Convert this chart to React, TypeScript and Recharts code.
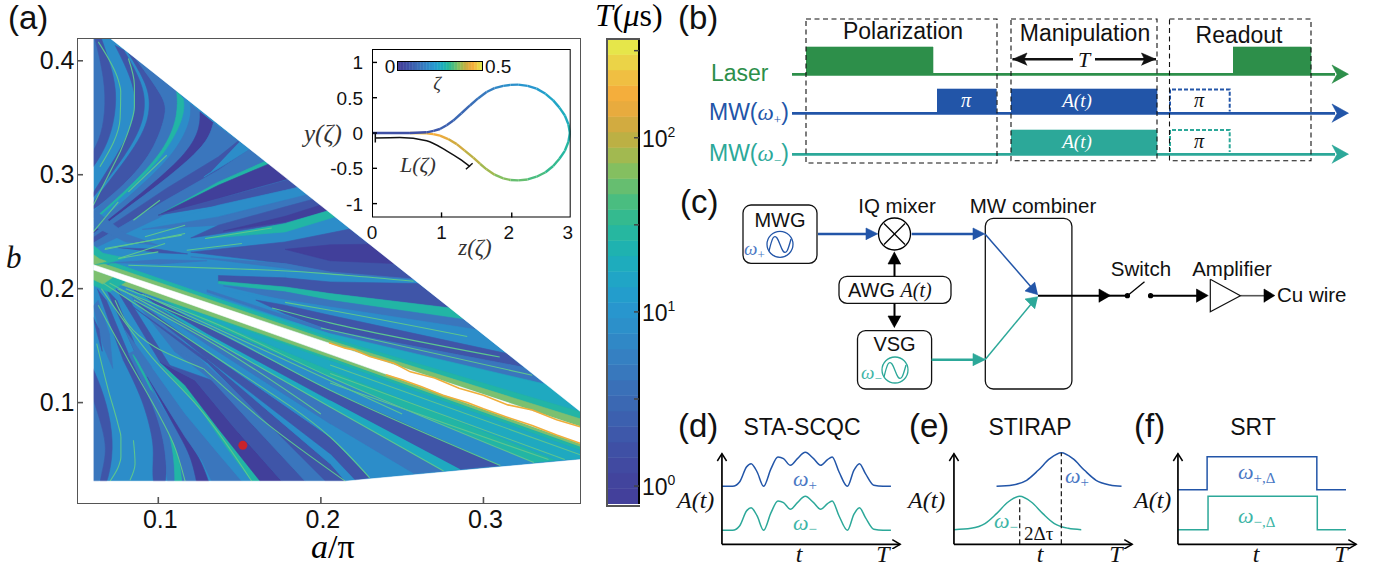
import React from "react";
import { ScatterChart, Scatter, XAxis, YAxis, BarChart, Bar, ReferenceArea, ReferenceDot } from "recharts";

type Pt = [number, number];
const SANS = "'Liberation Sans', Arial, sans-serif";
const SERIF = "'Liberation Serif', 'DejaVu Serif', serif";
const BLUE = "#2255a8", TEAL = "#2ca899", GREEN = "#2d8f4a";
const TONE: Record<string, string> = { D: "#413f9a", N: "#3f55a8", M: "#3a76bd", B: "#2c8dc9", C: "#1fa9c0", T: "#22b5a5", G: "#7cc070", L: "#5cc58f", O: "#f0ae3a" };

const colormap = ["#43409b","#42449d","#414aa1","#3f50a5","#3e58aa","#3c60af","#3b68b3","#3a70b8","#3878bd","#3580c2","#3088c6","#2c90ca","#2896ce","#239dcc","#20a5c6","#1eacbd","#1fb2b0","#26b7a0","#34ba8f","#4abd80","#66be70","#84bf60","#a2b950","#bcb044","#d2ab40","#e8ab3e","#f4ae3c","#f0bf42","#ebd347","#e6e64a"];

// ---- (a) heat map: bands traced in (a/pi, b)
const heatRegion: Pt[] = [[.06,.42],[.0703,.42],[.36,.0917],[.36,.05],[.215,.031],[.06,.031]];
const c0: Pt[] = [[.06,.42],[.06,.313]];
const c1: Pt[] = [[.061,.4196],[.067,.3845],[.0676,.355],[.064,.329],[.06,.313]];
const c2: Pt[] = [[.065,.4196],[.0734,.3845],[.0744,.361],[.0703,.329],[.06,.2967]];
const c3: Pt[] = [[.0734,.4137],[.0847,.3815],[.0867,.358],[.0816,.3318],[.06,.2762]];
const c4a: Pt[] = [[.0785,.41],[.0905,.3805],[.0925,.358],[.087,.33],[.06,.272]];
const c4b: Pt[] = [[.0815,.407],[.0935,.379],[.0955,.358],[.09,.33],[.06,.27]];
const c5: Pt[] = [[.0857,.4025],[.1042,.3669],[.1052,.3537],[.097,.32],[.0795,.2908],[.06,.2645]];
const c6: Pt[] = [[.1113,.3735],[.1124,.3523],[.1042,.3215],[.0816,.2879],[.06,.2557]];
const c7: Pt[] = [[.1154,.3669],[.1165,.3523],[.1052,.32],[.0836,.2879],[.06,.2542]];
const c8: Pt[] = [[.1196,.3625],[.1206,.3493],[.1113,.32],[.0857,.285],[.06,.2498]];
const c9: Pt[] = [[.1257,.3552],[.1257,.3406],[.1185,.32],[.096,.2908],[.06,.2454]];
const c10: Pt[] = [[.1339,.3458],[.1319,.3347],[.1247,.32],[.1,.2908],[.0816,.2718],[.06,.244]];
const c11: Pt[] = [[.1503,.3285],[.137,.3119],[.1083,.285],[.06,.2411]];
const rev = (p: Pt[]) => [...p].reverse();
const between = (p: Pt[], q: Pt[]) => [...p, ...rev(q)];

const upperCurved: [string, Pt[]][] = [
  ["M", between(c0, c1)], ["N", between(c1, c2)], ["N", between(c3, c4a)], ["N", between(c4b, c5)], ["M", between(c5, c6)], ["T", between(c6, c7)],
  ["M", between(c8, c9)], ["D", between(c9, c10)], ["M", between(c10, c11)],
];
const upperBands: [string, Pt[]][] = [
  ["N", [[.149,.3295],[.137,.3157],[.105,.288],[.06,.245],[.06,.24],[.105,.278],[.137,.304],[.1565,.3225]]],
  ["B", [[.15,.329],[.1565,.3225],[.14,.308],[.128,.298],[.132,.302]]],
  ["M", [[.1565,.3225],[.137,.304],[.105,.278],[.06,.24],[.06,.235],[.1,.262],[.137,.2937],[.1655,.3115]]],
  ["T", [[.1655,.3115],[.137,.2937],[.1,.2645],[.137,.2908],[.168,.309]]],
  ["D", [[.168,.3095],[.137,.2908],[.1,.2645],[.137,.279],[.16,.2885],[.18,.2965]]],
  ["N", [[.18,.2957],[.137,.279],[.1,.2645],[.137,.2733],[.178,.2864],[.186,.289]]],
  ["B", [[.186,.289],[.178,.2864],[.137,.2733],[.09,.252],[.137,.263],[.178,.2776],[.1917,.2825]]],
  ["M", [[.1917,.2825],[.178,.2776],[.137,.263],[.09,.252],[.137,.2557],[.178,.2718],[.1952,.2785]]],
  ["N", [[.1952,.2785],[.178,.2718],[.137,.2557],[.12,.2445],[.178,.2572],[.2043,.2683]]],
  ["D", [[.2,.2735],[.178,.2635],[.14,.2505],[.178,.2585],[.2043,.2683]]],
  ["T", [[.2043,.2683],[.178,.2572],[.1288,.244],[.178,.2498],[.2088,.2631]]],
  ["N", [[.2178,.2523],[.178,.241],[.12,.232],[.178,.222],[.2057,.2147],[.257,.2085]]],
  ["D", [[.23,.239],[.2057,.2385],[.178,.2345],[.2057,.2245],[.245,.222]]],
  ["M", [[.257,.2085],[.2057,.2147],[.178,.222],[.12,.228],[.178,.218],[.2057,.212],[.258,.2065]]],
  ["B", [[.258,.2075],[.2057,.213],[.178,.2155],[.178,.2095],[.2057,.2059],[.26,.2045]]],
  ["N", [[.26,.2045],[.2057,.2059],[.178,.2095],[.137,.2115],[.137,.206],[.178,.2015],[.2057,.1957],[.2796,.183]]],
  ["T", [[.2796,.183],[.2057,.1957],[.178,.2015],[.137,.2065],[.137,.2045],[.178,.1972],[.2057,.1898],[.2878,.173]]],
  ["M", [[.2878,.173],[.2057,.1898],[.178,.1972],[.14,.2025],[.178,.19],[.2057,.1839],[.296,.164]]],
  ["B", [[.296,.164],[.2057,.1839],[.178,.19],[.14,.199],[.178,.1855],[.2057,.1766],[.3145,.143]]],
  ["N", [[.3145,.143],[.2057,.1766],[.178,.1855],[.16,.19],[.178,.178],[.2057,.1635],[.3247,.131]]],
  ["M", [[.3247,.131],[.2057,.1635],[.13,.199],[.13,.197],[.2057,.1605],[.339,.1145]]],
  ["C", [[.339,.1158],[.2057,.1605],[.09,.212],[.09,.2065],[.2057,.157],[.36,.0917]]],
  ["T", [[.36,.0917],[.2057,.157],[.07,.224],[.07,.2195],[.2057,.1545],[.36,.0855]]],
  ["G", [[.36,.0855],[.2057,.1545],[.065,.2225],[.06,.221],[.2057,.1518],[.36,.0786]]],
  ["T", [[.06,.238],[.066,.231],[.08,.227],[.068,.222],[.06,.221]]],
  ["G", [[.06,.23],[.064,.226],[.068,.224],[.06,.221]]],
  ["M", [[.06,.27],[.08,.248],[.1,.238],[.08,.241],[.06,.255]]],
  ["N", [[.075,.236],[.1,.2345],[.118,.2305],[.1,.2315]]],
  ["M", [[.07,.2225],[.1,.2255],[.13,.2245],[.1,.2215]]],
];
const lowerCurved: [string, Pt[]][] = [
  ["M", [[.06,.12],[.0672,.0727],[.0682,.0522],[.062,.031],[.06,.031]]],
  ["N", [[.06,.1415],[.0652,.1137],[.0713,.0815],[.0723,.0522],[.0672,.031],[.062,.031],[.0682,.0522],[.0672,.0727],[.06,.12]]],
  ["N", [[.0785,.1371],[.0908,.102],[.097,.0669],[.097,.0522],[.096,.031],[.1052,.031],[.1052,.0581],[.098,.0961],[.0816,.143]]],
  ["M", [[.0816,.143],[.098,.0961],[.1052,.0581],[.1052,.031],[.1103,.031],[.11,.0581],[.102,.0961],[.0857,.146]]],
  ["T", [[.1103,.031],[.11,.0581],[.102,.0961],[.0785,.155],[.092,.128],[.1087,.0669],[.1134,.0522],[.1155,.031]]],
  ["M", [[.1155,.031],[.1134,.0522],[.1087,.0669],[.0877,.1313],[.1124,.0727],[.1206,.0522],[.1247,.031]]],
  ["D", [[.1247,.031],[.1206,.0522],[.1124,.0727],[.0898,.1313],[.096,.1166],[.1165,.0698],[.1267,.0493],[.1329,.031]]],
];
const lowerSlivers: [string, Pt[]][] = [
  ["N", [[.0625,.2],[.0785,.1371],[.0816,.143],[.068,.19]]],
  ["N", [[.068,.2],[.0898,.1313],[.094,.1215],[.0745,.19]]],
  ["N", [[.074,.2],[.1011,.1357],[.11,.126],[.083,.188]]],
  ["M", [[.081,.198],[.11,.145],[.1288,.1342],[.09,.19]]],
  ["N", [[.09,.196],[.1288,.16],[.135,.148],[.1,.184]]],
  ["M", [[.06,.185],[.066,.15],[.072,.13],[.07,.16],[.063,.19]]],
  ["N", [[.06,.175],[.0625,.16],[.0655,.145],[.0635,.165]]],
];
const lowerBands: [string, Pt[]][] = [
  ["M", [[.1329,.031],[.1267,.0493],[.1165,.0698],[.0898,.1313],[.0795,.1635],[.096,.1313],[.1165,.0903],[.137,.0552],[.1514,.031]]],
  ["B", [[.1514,.031],[.137,.0552],[.1165,.0903],[.096,.1313],[.1011,.1342],[.1247,.0961],[.1432,.0581],[.1575,.031]]],
  ["T", [[.1575,.031],[.1432,.0581],[.1247,.0961],[.1011,.1342],[.1165,.1152],[.137,.0771],[.1627,.031]]],
  ["D", [[.1627,.031],[.137,.0771],[.1165,.1152],[.1011,.1357],[.1226,.1196],[.1473,.0771],[.176,.031]]],
  ["N", [[.176,.031],[.1473,.0771],[.1226,.1196],[.1011,.1357],[.1329,.1196],[.1575,.0815],[.1904,.031]]],
  ["M", [[.1904,.031],[.1575,.0815],[.1329,.1196],[.11,.145],[.1288,.1342],[.1637,.0888],[.2027,.031]]],
  ["N", [[.2027,.031],[.215,.031],[.2057,.0464],[.13,.1383],[.085,.1835],[.13,.135]]],
  ["B", [[.215,.031],[.221,.032],[.2057,.0552],[.13,.1383],[.2057,.0464]]],
  ["N", [[.221,.032],[.23,.034],[.2057,.0698],[.13,.1448],[.085,.19],[.13,.1383],[.2057,.0552]]],
  ["B", [[.23,.034],[.257,.0377],[.2057,.0815],[.13,.1509],[.085,.193],[.13,.1448],[.2057,.0698]]],
  ["M", [[.257,.0377],[.2755,.04],[.2057,.0961],[.13,.1575],[.085,.195],[.13,.1509],[.2057,.0815]]],
  ["C", [[.2755,.04],[.2857,.0415],[.2057,.102],[.13,.1607],[.085,.197],[.13,.1575],[.2057,.0961]]],
  ["N", [[.2857,.0415],[.3104,.0447],[.2057,.1108],[.13,.1665],[.085,.199],[.13,.1607],[.2057,.102]]],
  ["B", [[.3104,.0447],[.331,.0475],[.2057,.1225],[.13,.1706],[.085,.201],[.13,.1665],[.2057,.1108]]],
  ["T", [[.331,.0475],[.345,.0493],[.2057,.1283],[.13,.1743],[.085,.203],[.13,.1706],[.2057,.1225]]],
  ["C", [[.345,.0493],[.36,.0508],[.36,.058],[.2057,.137],[.13,.178],[.085,.205],[.13,.1743],[.2057,.1283]]],
  ["T", [[.36,.058],[.36,.061],[.2057,.1395],[.1,.195],[.1,.192],[.2057,.137]]],
  ["G", [[.36,.061],[.36,.064],[.2057,.1425],[.07,.212],[.07,.207],[.2057,.1395]]],
  ["T", [[.06,.2166],[.08,.206],[.07,.197],[.06,.203]]],
  ["G", [[.06,.2166],[.072,.21],[.066,.204],[.06,.208]]],
];
const brightLines: Pt[][] = [
  [[.0631,.4166],[.0754,.383],[.0769,.3727],[.0765,.3493],[.0641,.307]],
  [[.0816,.402],[.0853,.3786],[.0853,.3596],[.082,.34],[.0765,.32]],
  [[.1052,.3171],[.0816,.285]], [[.0765,.32],[.06,.2732]], [[.0754,.2762],[.06,.2498]],
  [[.101,.2776],[.0847,.26]], [[.1165,.2557],[.0918,.2455]], [[.1144,.247],[.0672,.2352]],
  [[.1698,.2533],[.1288,.244]], [[.1514,.2396],[.1175,.2337]], [[.1042,.2396],[.0754,.2264]],
  [[.0816,.2206],[.143,.2176],[.17,.2162],[.215,.2118],[.257,.2065]],
  [[.1,.2323],[.0754,.2264]], [[.1165,.2484],[.067,.2343]],
  [[.178,.188],[.2057,.181],[.29,.158]], [[.17,.183],[.2057,.17],[.31,.14]], [[.2,.1655],[.33,.124]],
  [[.0621,.1518],[.0693,.1108],[.0754,.08],[.077,.0698],[.077,.0522],[.0754,.0435],[.0703,.031]],
  [[.0847,.0669],[.0857,.0464],[.0826,.0318]],
  [[.0631,.1854],[.0816,.1371],[.099,.0932],[.1093,.064],[.1165,.031]],
  [[.07,.205],[.13,.1575],[.2057,.0961],[.2755,.04]], [[.075,.2],[.13,.1665],[.2057,.1108],[.3104,.0447]],
  [[.08,.2],[.13,.1725],[.2057,.1225],[.331,.0475]], [[.066,.205],[.13,.145],[.2057,.0698],[.23,.034]],
  [[.065,.2],[.096,.14],[.1247,.0961],[.1575,.031]], [[.0734,.1898],[.098,.1488],[.1278,.1298]],
  [[.1278,.1298],[.1668,.0815],[.215,.031]], [[.085,.19],[.13,.155],[.2,.09]], [[.09,.195],[.13,.169],[.25,.09]],
  [[.2057,.1172],[.34,.05]], [[.2057,.1255],[.35,.05]], [[.2057,.133],[.36,.054]],
];
const orangeEdges: Pt[][] = [
  [[.205,.1525],[.215,.1478],[.22,.1465],[.23,.1405],[.245,.1345],[.255,.127],[.27,.1215],[.285,.1125],[.3,.1065],[.315,.098],[.33,.0935],[.345,.085],[.36,.0786]],
  [[.24,.1245],[.25,.12],[.262,.114],[.275,.1065],[.29,.1],[.3,.0945],[.315,.087],[.33,.08],[.345,.0715],[.36,.064]],
];
const whiteStrip: Pt[] = [[.06,.221],[.36,.0786],[.36,.064],[.06,.2166]];
const upperMask: Pt[] = [[.0703,.42],[.36,.0917],[.36,.42]];
const lowerMask: Pt[] = [[.0555,.031],[.215,.031],[.36,.05],[.36,.02],[.0555,.02]];
const leftMask: Pt[] = [[.0555,.02],[.06,.02],[.06,.42],[.0555,.42]];
const frameBox: Pt[] = [[.05,.011],[.05,.42],[.36,.42],[.36,.011],[.05,.011]];
const markerPoint = { a: .152, b: .0625 };
const xTicksA = [.1, .2, .3];
const yTicksB = [.1, .2, .3, .4];

// ---- inset
const loopOut: Pt[] = [[0,0],[.573,0],[.825,.01],[.93,.03],[1.026,.057],[1.127,.11],[1.227,.176],[1.35,.28],[1.479,.39],[1.6,.49],[1.73,.581],[1.85,.635],[1.982,.667],[2.09,.682],[2.208,.686],[2.35,.668],[2.485,.629],[2.62,.555],[2.736,.462],[2.83,.36],[2.912,.248],[2.965,.125],[2.988,0]];
const loopBack: Pt[] = [[2.988,0],[2.965,-.125],[2.912,-.252],[2.83,-.365],[2.736,-.467],[2.62,-.555],[2.485,-.619],[2.35,-.658],[2.208,-.671],[2.09,-.665],[1.982,-.643],[1.85,-.59],[1.73,-.514],[1.63,-.435],[1.529,-.348],[1.4,-.25],[1.279,-.157],[1.15,-.085],[1.026,-.038],[.925,-.015],[.825,-.005],[.573,0]];
const loopOutColor = [3,3,4,4,5,5,6,6,7,8,9,10,11,11,12,12,13,14,14,15,15,16];
const loopBackColor = [16,17,17,18,18,19,19,20,20,21,21,22,22,23,23,24,24,25,26,26,27];
const arcL: Pt[] = [[.05,-.071],[.42,-.062],[.825,-.11],[1.127,-.252],[1.328,-.371],[1.479,-.476]];
const arcStartBar: Pt[] = [[.05,-.014],[.05,-.133]];
const arcEndBar: Pt[] = [[1.418,-.514],[1.519,-.429]];
const insetBox: Pt[] = [[0,-1.195],[0,1.19],[3,1.19],[3,-1.195],[0,-1.195]];
const xTicksInset = [0, 1.05, 2.11, 3];
const xLabelsInset = ["0", "1", "2", "3"];
const yTicksInset = [-1, -.5, 0, .5, 1];

// ---- (b),(c) schematic, in page units
const timeLines: [string, Pt[]][] = [
  [GREEN, [[792,74.3],[1335,74.3]]], [BLUE, [[792,113.3],[1335,113.3]]], [TEAL, [[792,154.3],[1335,154.3]]],
];
const pulses: [string, number, number, number, number][] = [
  [GREEN,806,933,47,74], [GREEN,1233,1311,47,74], [BLUE,937,996.4,89,113], [BLUE,1011,1157,89,113], [TEAL,1011,1157,130,154],
];
const dashedPulse: [string, Pt[]][] = [
  [BLUE, [[1170,111.5],[1170,89.5],[1229.7,89.5],[1229.7,111.5]]], [TEAL, [[1170,152],[1170,130],[1229.7,130],[1229.7,152]]],
];
const phaseBoxes: Pt[][] = [
  [[806,19],[997,19],[997,163],[806,163],[806,19]],
  [[1011,19],[1157,19],[1157,160.7],[1011,160.7],[1011,19]],
  [[1169.5,19],[1311,19],[1311,160.7],[1169.5,160.7],[1169.5,19]],
];
const arrowsHead: [string, Pt[]][] = [
  [GREEN, [[1348.7,74.3],[1332,65],[1337,74.3],[1332,83.5]]], [BLUE, [[1348.7,113.3],[1332,104],[1337,113.3],[1332,122.5]]], [TEAL, [[1348.7,154.3],[1332,145],[1337,154.3],[1332,163.5]]],
  ["#111", [[1012.5,59.3],[1027,53],[1024,59.3],[1027,65.5]]], ["#111", [[1156,59.3],[1141.5,53],[1144.5,59.3],[1141.5,65.5]]],
  [BLUE, [[878,234],[866,228],[866,240]]], [BLUE, [[985,234],[973,228],[973,240]]], [TEAL, [[985.7,359.7],[973,353.5],[973,366]]],
  ["#000", [[894.5,251.7],[888,264],[901,264]]], ["#000", [[894.5,327.7],[888,316],[901,316]]],
  [BLUE, [[1038,294.7],[1025,291],[1035,282]]], [TEAL, [[1038,296.7],[1025,299],[1035,309]]],
  ["#000", [[1110.7,295.7],[1099,289],[1099,302.5]]], ["#000", [[1208.4,295.7],[1196.5,289],[1196.5,302.5]]], ["#000", [[1275,295.7],[1264,289],[1264,302.5]]],
];
const wires: [string, number, Pt[]][] = [
  ["#111", 2.4, [[1012.5,59.3],[1073,59.3]]], ["#111", 2.4, [[1095,59.3],[1156,59.3]]],
  [BLUE, 2.4, [[818,234],[867,234]]], [BLUE, 2.4, [[911.7,234],[974,234]]], [TEAL, 2.4, [[931.6,359.7],[974,359.7]]],
  [BLUE, 1.5, [[985,234],[1032,288]]], [TEAL, 1.5, [[985,359.7],[1032,303]]],
  ["#000", 2, [[894.5,276.3],[894.5,262]]], ["#000", 2, [[894.5,303.3],[894.5,318]]],
  ["#000", 2, [[1038,295.7],[1100,295.7]]], ["#000", 2, [[1100,295.7],[1127.4,295.7]]], ["#000", 1.3, [[1127.4,295.7],[1144.5,281.7]]],
  ["#000", 2, [[1150.6,295.7],[1198,295.7]]], ["#555", 1.6, [[1240.4,295.7],[1265,295.7]]],
  ["#000", 1.3, [[884,223.5],[905,244.5]]], ["#000", 1.3, [[905,223.5],[884,244.5]]],
];
const ampTriangle: Pt[] = [[1210.3,279.3],[1210.3,311.7],[1240.4,295.7],[1210.3,279.3]];
const roundBoxes: [number, number, number, number][] = [
  [743,817,205,263.3], [839,951,276.3,303.3], [857.5,931.6,330.7,389], [985.3,1071.9,218.3,389],
];
const sineBlue: Pt[] = [[769,251],[773,238],[777,238],[780,244.5],[783,251],[787,251],[791,239]];
const sineTeal: Pt[] = [[884,377],[888,364],[892,364],[895,370.5],[898,377],[902,377],[906,365]];
const circles: [number, number, number, string][] = [[780,244.3,13,BLUE],[895,370,13,TEAL],[894.5,234,16,"#000"],[1127.4,295.7,2,"#000"],[1150.6,295.7,2,"#000"]];

// ---- (d),(e),(f) pulses, t and A in arbitrary units
const scqcT = [0,23,38,53,63,76,90,106,121,133,148,163,180,198,213,228,238,253,271,285,297,310,328,348,365];
const scqcPlus = [174,174,187,232,242,217,174,227,262,257,237,257,276,257,237,254,262,217,174,222,242,212,177,174,174];
const scqcMinus = [42,42,55,100,110,85,42,95,130,125,105,125,144,125,105,122,130,85,42,90,110,80,45,42,42];
const stirapPlusT = [92,127,157,182,207,232,257,282,307,337,362];
const stirapPlus = [174,178,192,222,257,275,257,222,192,178,174];
const stirapMinusT = [0,37,67,92,117,142,167,192,217,247,275];
const stirapMinus = [44,48,62,92,127,144,127,92,62,48,44];
const srtPlus: Pt[] = [[0,164],[63,164],[63,263],[300,263],[300,164],[363,164]];
const srtMinus: Pt[] = [[0,44],[65,44],[65,144],[301,144],[301,44],[363,44]];
const axisX: Pt[] = [[0,0],[385,0]];
const axisY: Pt[] = [[0,0],[0,272]];
const headX: Pt[] = [[368,14],[385,0],[368,-14]];
const headY: Pt[] = [[-10,250],[0,272],[10,250]];

const Nothing = () => <g />;
const xy = (p: Pt[]) => p.map(([x, y]) => ({ x, y }));
const pushOut = (p: Pt[]): Pt[] => p.map(([a, b]) => [a === .06 ? .056 : a, b === .031 ? .022 : b]);

function fillArea(p: Pt[], fill: string, key: string, joint = "linear") {
  return <Scatter key={key} data={xy(p)} fill={fill} isAnimationActive={false} shape={Nothing} lineJointType={joint as any}
    line={{ fill, stroke: fill, strokeWidth: .6 }} />;
}
function stroke(p: Pt[], color: string, width: number, key: string, extra: any = {}, joint = "linear") {
  return <Scatter key={key} data={xy(p)} fill="none" isAnimationActive={false} shape={Nothing} lineJointType={joint as any}
    line={{ fill: "none", stroke: color, strokeWidth: width, ...extra }} />;
}

const txtTickB = (props: any) => {
  const { x, y, payload } = props;
  return <g><line x1={x} x2={x + 6} y1={y} y2={y} stroke="#555" strokeWidth={1.6} />
    <text x={x - 2.5} y={y + 8.5} textAnchor="end" fontFamily={SANS} fontSize={25} fill="#111">{payload.value.toFixed(1)}</text></g>;
};
const txtTickA = (props: any) => {
  const { x, y, payload } = props;
  return <g><line x1={x} x2={x} y1={y - 7} y2={y} stroke="#555" strokeWidth={1.6} />
    <text x={x + 2} y={y + 24} textAnchor="middle" fontFamily={SANS} fontSize={25} fill="#111">{payload.value.toFixed(1)}</text></g>;
};

function MainChart() {
  return (
    <ScatterChart width={600} height={560} margin={{ top: 38, right: 19, bottom: 0, left: 0 }} style={{ position: "absolute", left: 0, top: 0 }}>
      <XAxis type="number" dataKey="x" domain={[.05, .36]} ticks={xTicksA} height={56} axisLine={false} tickLine={false} tickSize={0} tickMargin={0} tick={txtTickA} allowDataOverflow />
      <YAxis type="number" dataKey="y" domain={[.011, .42]} ticks={yTicksB} width={77} axisLine={false} tickLine={false} tickSize={0} tickMargin={0} tick={txtTickB} allowDataOverflow />
      {fillArea(heatRegion, TONE.B, "base")}
      {upperCurved.map(([t, p], i) => fillArea(pushOut(p), TONE[t], "uc" + i, "basis"))}
      {upperBands.map(([t, p], i) => fillArea(p, TONE[t], "u" + i))}
      {lowerSlivers.map(([t, p], i) => fillArea(p, TONE[t], "sl" + i))}
      {lowerCurved.map(([t, p], i) => fillArea(pushOut(p), TONE[t], "lc" + i, "basis"))}
      {lowerBands.map(([t, p], i) => fillArea(p, TONE[t], "l" + i))}
      {brightLines.map((p, i) => stroke(p, TONE.L, 1.1, "g" + i, {}, "monotoneY"))}
      {fillArea(whiteStrip, "#fff", "strip")}
      {orangeEdges.map((p, i) => stroke(p, TONE.O, 1.6, "o" + i))}
      {fillArea(upperMask, "#fff", "mu")}
      {fillArea(lowerMask, "#fff", "ml")}
      {fillArea(leftMask, "#fff", "mleft")}
      {stroke(frameBox, "#555", 2, "frame")}
      <ReferenceDot x={markerPoint.a} y={markerPoint.b} r={4.5} fill="#c8232c" stroke="none" />
    </ScatterChart>
  );
}

const insetTickX = (props: any) => {
  const { x, y, index } = props;
  const off = index === 2 ? -3 : index === 3 ? -3 : 0;
  return <g>{index > 0 && index < 3 ? <line x1={x} x2={x} y1={y - 5} y2={y} stroke="#000" strokeWidth={1.4} /> : null}
    <text x={x + off} y={y + 22} textAnchor="middle" fontFamily={SANS} fontSize={19} fill="#111">{xLabelsInset[index]}</text></g>;
};
const insetTickY = (props: any) => {
  const { x, y, payload } = props;
  return <g><line x1={x} x2={x + 5} y1={y} y2={y} stroke="#000" strokeWidth={1.4} />
    <text x={x - 9} y={y + 7} textAnchor="end" fontFamily={SANS} fontSize={19} fill="#111">{payload.value}</text></g>;
};

function InsetChart() {
  return (
    <ScatterChart width={255} height={219.4} margin={{ top: 9, right: 4.3, bottom: 0, left: 0 }} style={{ position: "absolute", left: 320, top: 40.3 }}>
      <XAxis type="number" dataKey="x" domain={[0, 3]} ticks={xTicksInset} height={42} axisLine={false} tickLine={false} tickSize={0} tickMargin={0} tick={insetTickX} interval={0} allowDataOverflow />
      <YAxis type="number" dataKey="y" domain={[-1.195, 1.19]} ticks={yTicksInset} width={52} axisLine={false} tickLine={false} tickSize={0} tickMargin={0} tick={insetTickY} interval={0} allowDataOverflow />
      {loopBack.slice(1).map((p, i) => stroke([loopBack[i], p], colormap[loopBackColor[i]], 2.4, "b" + i))}
      {loopOut.slice(1).map((p, i) => stroke([loopOut[i], p], colormap[loopOutColor[i]], 2.4, "a" + i))}
      {stroke(arcL, "#111", 1.5, "arc", {}, "monotoneX")}
      {stroke(arcStartBar, "#111", 1.5, "arc1")}
      {stroke(arcEndBar, "#111", 1.5, "arc2")}
      {stroke(insetBox, "#000", 2, "box")}
    </ScatterChart>
  );
}

const decadeOffset = .103;
const barLogRows = [Object.fromEntries(colormap.map((_, i) => ["s" + i, 2.67 / colormap.length]))];
const cbarTicks = [0, .5, 1, 1.5, 2, 2.5].map(v => v + decadeOffset);
const cbarTick = (props: any) => {
  const { x, y, payload } = props;
  const n = payload.value - decadeOffset;
  const major = Math.abs(n - Math.round(n)) < .01;
  return <g><line x1={x - 5} x2={x} y1={y} y2={y} stroke="#444" strokeWidth={1.5} />
    {major ? <text x={x + 3} y={y + 9} fontFamily={SANS} fontSize={23} fill="#111">10<tspan fontSize={14} dy={-10}>{Math.round(n)}</tspan></text> : null}</g>;
};

function ColorBar() {
  return (
    <BarChart width={72} height={465} data={barLogRows} margin={{ top: 0, right: 0, bottom: 0, left: 0 }} barCategoryGap={0} style={{ position: "absolute", left: 607, top: 39 }}>
      <XAxis hide />
      <YAxis orientation="right" type="number" domain={[0, 2.67]} ticks={cbarTicks} width={40} axisLine={{ stroke: "#000", strokeWidth: 2 }} tickLine={false} tickSize={0} tickMargin={0} tick={cbarTick} interval={0} allowDataOverflow />
      {colormap.map((c, i) => <Bar key={i} dataKey={"s" + i} stackId="a" fill={c} stroke={c} strokeWidth={.5} isAnimationActive={false} />)}
    </BarChart>
  );
}
function MiniBar() {
  return (
    <BarChart layout="vertical" width={85} height={9} data={barLogRows} margin={{ top: 0, right: 0, bottom: 0, left: 0 }} barCategoryGap={0} style={{ position: "absolute", left: 397.5, top: 61 }}>
      <XAxis type="number" hide domain={[0, 2.67]} />
      <YAxis type="category" hide />
      {colormap.map((c, i) => <Bar key={i} dataKey={"s" + i} stackId="a" fill={c} stroke={c} strokeWidth={.5} isAnimationActive={false} />)}
    </BarChart>
  );
}

function Schematic() {
  return (
    <ScatterChart width={726} height={400} margin={{ top: 0, right: 0, bottom: 0, left: 0 }} style={{ position: "absolute", left: 670, top: 0 }}>
      <XAxis type="number" dataKey="x" domain={[670, 1396]} hide allowDataOverflow />
      <YAxis type="number" dataKey="y" domain={[0, 400]} reversed hide allowDataOverflow />
      {roundBoxes.map(([a, b, c, d], i) => <ReferenceArea key={i} x1={a} x2={b} y1={c} y2={d} fill="#fff" fillOpacity={1} stroke="#111" strokeWidth={1.3} radius={8} />)}
      {pulses.map(([c, a, b, t, u], i) => fillArea([[a, t], [b, t], [b, u], [a, u]], c, "p" + i))}
      {timeLines.map(([c, p], i) => stroke(p, c, 2.8, "t" + i))}
      {dashedPulse.map(([c, p], i) => stroke(p, c, 2, "dp" + i, { strokeDasharray: "4 2" }))}
      {phaseBoxes.map((p, i) => stroke(p, "#111", 1.1, "pb" + i, { strokeDasharray: "5 3.5" }))}
      {wires.map(([c, w, p], i) => stroke(p, c, w, "w" + i))}
      {arrowsHead.map(([c, p], i) => fillArea(p, c, "h" + i))}
      {stroke(ampTriangle, "#111", 1.2, "amp")}
      {stroke(sineBlue, BLUE, 1.3, "sb", {}, "natural")}
      {stroke(sineTeal, TEAL, 1.3, "st", {}, "natural")}
      {circles.map(([x, y, r, c], i) => <ReferenceDot key={i} x={x} y={y} r={r} fill={r < 3 ? c : "none"} stroke={c} strokeWidth={1.3} />)}
    </ScatterChart>
  );
}

function PulsePanel({ left, series, dashes }: { left: number; series: { pts: Pt[]; color: string; joint: string }[]; dashes?: Pt[][] }) {
  return (
    <ScatterChart width={187.5} height={98.3} margin={{ top: 0, right: 0, bottom: 0, left: 0 }} style={{ position: "absolute", left: left - 6.95, top: 450.6 }}>
      <XAxis type="number" dataKey="x" domain={[-15, 390]} hide allowDataOverflow />
      <YAxis type="number" dataKey="y" domain={[-15, 280]} hide allowDataOverflow />
      {series.map((s, i) => stroke(s.pts, s.color, 1.5, "s" + i, {}, s.joint))}
      {(dashes || []).map((p, i) => stroke(p, "#222", 1.3, "d" + i, { strokeDasharray: "5 3" }))}
      {stroke(axisX, "#000", 1.7, "ax")}
      {stroke(axisY, "#000", 1.7, "ay")}
      {stroke(headX, "#000", 1.5, "hx")}
      {stroke(headY, "#000", 1.5, "hy")}
    </ScatterChart>
  );
}
const zip = (a: number[], b: number[]): Pt[] => a.map((v, i) => [v, b[i]]);

function L({ x, y, s, size = 20, anchor = "start", it = false, fill = "#111", serif = false, children }: any) {
  return <text x={x} y={y} fontSize={size} textAnchor={anchor} fill={fill} fontStyle={it ? "italic" : "normal"} fontFamily={serif || it ? SERIF : SANS}>{s}{children}</text>;
}
const Sub = ({ c, size = 13 }: any) => <tspan fontSize={size} dy={4} fontFamily={SERIF}>{c}</tspan>;
const Om = () => <tspan fontStyle="italic" fontFamily={SERIF}>ω</tspan>;

function Labels() {
  const lightB = "#4a78c4", lightT = "#3db5a6";
  return (
    <svg width={1396} height={570} style={{ position: "absolute", left: 0, top: 0, pointerEvents: "none" }}>
      <L x={8} y={29} s="(a)" size={33} /><L x={678} y={29} s="(b)" size={33} /><L x={680} y={213} s="(c)" size={33} />
      <L x={678} y={437} s="(d)" size={33} /><L x={909} y={437} s="(e)" size={33} /><L x={1134} y={437} s="(f)" size={33} />
      <L x={6} y={268} s="b" size={31} it />
      <text x={311} y={558} fontSize={34} fontFamily={SERIF}><tspan fontStyle="italic">a</tspan>/π</text>
      <text x={595} y={26} fontSize={32} fontFamily={SERIF}><tspan fontStyle="italic">T</tspan>(<tspan fontStyle="italic">μ</tspan>s)</text>
      <L x={390} y={73} s="0" size={19} anchor="middle" /><L x={485} y={73} s="0.5" size={19} />
      <L x={437} y={90} s="ζ" size={19} anchor="middle" it fill="#333" />
      <L x={475} y={255} s="z(ζ)" size={23} anchor="middle" it fill="#333" />
      <L x={304} y={141.5} s="y(ζ)" size={25} it fill="#333" />
      <L x={400} y={172} s="L(ζ)" size={22} it fill="#333" />

      <L x={903} y={39} s="Polarization" size={23} anchor="middle" />
      <L x={1085} y={41} s="Manipulation" size={23} anchor="middle" />
      <L x={1239} y={43} s="Readout" size={23} anchor="middle" />
      <L x={1084} y={67} s="T" size={22} anchor="middle" it />
      <L x={711} y={81} s="Laser" size={23} fill={GREEN} />
      <L x={709} y={120} s="MW(" size={23} fill={BLUE}><Om /><Sub c="+" />{<tspan dy={-4}>)</tspan>}</L>
      <L x={709} y={161} s="MW(" size={23} fill={TEAL}><Om /><Sub c="−" />{<tspan dy={-4}>)</tspan>}</L>
      <L x={966} y={107} s="π" size={20} anchor="middle" it fill="#fff" />
      <L x={1077} y={107} s="A(t)" size={19} anchor="middle" it fill="#fff" />
      <L x={1077} y={148} s="A(t)" size={19} anchor="middle" it fill="#fff" />
      <L x={1199} y={107} s="π" size={20} anchor="middle" it />
      <L x={1199} y={148} s="π" size={20} anchor="middle" it />

      <L x={780} y={227} s="MWG" size={20} anchor="middle" />
      <L x={744} y={255} s="" size={19} fill={lightB}><Om /><Sub c="+" size={13} /></L>
      <L x={897} y={213} s="IQ mixer" size={20.5} anchor="middle" />
      <L x={1033} y={213} s="MW combiner" size={20.5} anchor="middle" />
      <L x={848} y={297} s="AWG " size={20}><tspan fontStyle="italic" fontFamily={SERIF}>A(t)</tspan></L>
      <L x={894.5} y={351} s="VSG" size={20} anchor="middle" />
      <L x={861} y={379} s="" size={19} fill={lightT}><Om /><Sub c="−" size={13} /></L>
      <L x={1141} y={276} s="Switch" size={20.5} anchor="middle" />
      <L x={1232} y={276} s="Amplifier" size={20.5} anchor="middle" />
      <L x={1277} y={302} s="Cu wire" size={20.5} />

      <L x={802} y={435} s="STA-SCQC" size={23} anchor="middle" />
      <L x={1030} y={435} s="STIRAP" size={23} anchor="middle" />
      <L x={1253} y={435} s="SRT" size={23} anchor="middle" />
      <L x={677} y={508} s="A(t)" size={24} it /><L x={908} y={508} s="A(t)" size={24} it /><L x={1134} y={508} s="A(t)" size={24} it />
      <L x={799} y={562} s="t" size={24} it anchor="middle" /><L x={883} y={562} s="T" size={24} it anchor="middle" />
      <L x={1040} y={562} s="t" size={24} it anchor="middle" /><L x={1116} y={562} s="T" size={24} it anchor="middle" />
      <L x={1256} y={562} s="t" size={24} it anchor="middle" /><L x={1341} y={562} s="T" size={24} it anchor="middle" />
      <L x={793} y={486} s="" size={22} fill={lightB}><Om /><Sub c="+" size={15} /></L>
      <L x={793} y={530} s="" size={22} fill={lightT}><Om /><Sub c="−" size={15} /></L>
      <L x={1065} y={483} s="" size={22} fill={lightB}><Om /><Sub c="+" size={15} /></L>
      <L x={994} y={528} s="" size={22} fill={lightT}><Om /><Sub c="−" size={15} /></L>
      <L x={1024} y={540} s="2Δτ" size={19} serif />
      <L x={1238} y={479} s="" size={22} fill={lightB}><Om /><Sub c="+,Δ" size={15} /></L>
      <L x={1238} y={523} s="" size={22} fill={lightT}><Om /><Sub c="−,Δ" size={15} /></L>
    </svg>
  );
}

export default function App() {
  return (
    <div style={{ position: "absolute", left: 0, top: 0, width: 1396, height: 570, background: "#fff", overflow: "hidden" }}>
      <MainChart />
      <InsetChart />
      <MiniBar />
      <div style={{ position: "absolute", left: 397, top: 60.5, width: 84, height: 8.5, border: "1.5px solid #000", boxSizing: "content-box" }} />
      <ColorBar />
      <div style={{ position: "absolute", left: 606, top: 38, width: 32, height: 465, borderLeft: "2px solid #555", borderTop: "2px solid #555", borderBottom: "2px solid #555" }} />
      <Schematic />
      <PulsePanel left={721.9} series={[{ pts: zip(scqcT, scqcPlus), color: BLUE, joint: "monotoneX" }, { pts: zip(scqcT, scqcMinus), color: TEAL, joint: "monotoneX" }]} />
      <PulsePanel left={953.8} series={[{ pts: zip(stirapPlusT, stirapPlus), color: BLUE, joint: "monotoneX" }, { pts: zip(stirapMinusT, stirapMinus), color: TEAL, joint: "monotoneX" }]}
        dashes={[[[142, 0], [142, 144]], [[232, 0], [232, 275]]]} />
      <PulsePanel left={1177.9} series={[{ pts: srtPlus, color: BLUE, joint: "linear" }, { pts: srtMinus, color: TEAL, joint: "linear" }]} />
      <Labels />
    </div>
  );
}
